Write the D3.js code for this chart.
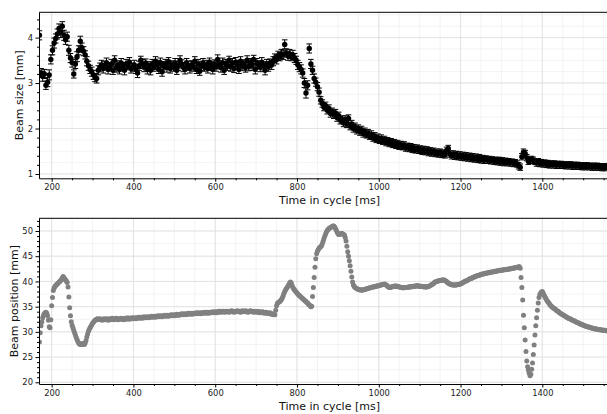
<!DOCTYPE html>
<html><head><meta charset="utf-8">
<script src="https://cdn.jsdelivr.net/npm/d3@7"></script>
<style>body{margin:0;background:#fff} svg{display:block} text{font-family:"DejaVu Sans",sans-serif}</style>
</head><body><svg id="c" width="607" height="414"></svg>
<script>
// ---------- DATA ----------
const sizeStart = 170, sizeStep = 4;   // ms
const beamSize = [
4.05,3.22,3.15,3.2,2.95,3.02,3.18,3.52,3.72,3.88,
3.98,4.08,4.2,4.12,4.25,4.05,3.95,4.02,3.72,3.55,
3.45,3.2,3.42,3.58,3.72,3.92,3.78,3.7,3.62,3.48,
3.38,3.3,3.25,3.18,3.12,3.1,3.28,3.35,3.4,3.32,
3.38,3.45,3.3,3.36,3.42,3.28,3.5,3.34,3.4,3.3,
3.44,3.36,3.28,3.42,3.38,3.46,3.32,3.35,3.4,3.3,
3.22,3.38,3.5,3.42,3.35,3.44,3.3,3.38,3.28,3.42,
3.35,3.48,3.4,3.3,3.45,3.25,3.38,3.42,3.34,3.47,
3.32,3.4,3.36,3.44,3.28,3.38,3.5,3.42,3.35,3.3,
3.45,3.38,3.32,3.4,3.36,3.48,3.3,3.42,3.26,3.38,
3.44,3.35,3.4,3.32,3.46,3.38,3.3,3.42,3.36,3.52,
3.4,3.34,3.45,3.28,3.42,3.38,3.5,3.36,3.44,3.32,
3.46,3.4,3.3,3.48,3.38,3.42,3.34,3.5,3.36,3.44,
3.38,3.52,3.3,3.44,3.4,3.35,3.46,3.38,3.28,3.42,
3.36,3.44,3.4,3.48,3.55,3.52,3.6,3.58,3.64,3.62,
3.85,3.66,3.6,3.64,3.58,3.62,3.55,3.5,3.4,3.35,
3.3,3.22,3.0,2.78,2.95,3.76,3.42,3.28,3.1,3.02,
2.92,2.8,2.62,2.55,2.47,2.5,2.4,2.44,2.33,2.37,
2.3,2.34,2.24,2.28,2.18,2.2,2.12,2.2,2.1,2.22,
2.05,2.1,2.0,2.04,1.96,2.0,1.93,1.97,1.89,1.93,
1.86,1.9,1.83,1.87,1.79,1.83,1.76,1.8,1.74,1.78,
1.72,1.76,1.69,1.73,1.67,1.71,1.65,1.69,1.63,1.67,
1.61,1.65,1.6,1.64,1.57,1.61,1.56,1.6,1.54,1.58,
1.53,1.57,1.52,1.55,1.5,1.54,1.49,1.53,1.47,1.51,
1.46,1.5,1.45,1.48,1.44,1.48,1.43,1.46,1.42,1.52,
1.56,1.44,1.4,1.44,1.39,1.43,1.38,1.42,1.37,1.41,
1.36,1.4,1.35,1.39,1.34,1.38,1.33,1.37,1.32,1.36,
1.31,1.35,1.3,1.34,1.3,1.33,1.29,1.32,1.28,1.31,
1.27,1.31,1.26,1.3,1.25,1.29,1.25,1.28,1.24,1.27,
1.23,1.26,1.22,1.18,1.15,1.38,1.48,1.45,1.36,1.28,
1.3,1.33,1.3,1.27,1.24,1.28,1.23,1.26,1.22,1.25,
1.21,1.24,1.2,1.23,1.2,1.23,1.19,1.22,1.19,1.22,
1.19,1.21,1.18,1.21,1.18,1.21,1.17,1.2,1.17,1.2,
1.17,1.19,1.16,1.19,1.16,1.19,1.16,1.18,1.15,1.18,
1.15,1.18,1.15,1.17,1.14,1.17,1.14,1.17
];
const beamSizeErr = [
0.1,0.1,0.11,0.1,0.09,0.1,0.11,0.1,0.1,0.11,
0.1,0.11,0.1,0.12,0.1,0.11,0.1,0.1,0.11,0.1,
0.1,0.09,0.1,0.11,0.1,0.11,0.1,0.1,0.09,0.1,
0.1,0.09,0.1,0.1,0.09,0.1,0.1,0.09,0.1,0.1,
0.09,0.1,0.1,0.09,0.1,0.09,0.1,0.1,0.09,0.1,
0.1,0.09,0.1,0.1,0.09,0.1,0.1,0.09,0.1,0.09,
0.1,0.1,0.09,0.1,0.1,0.09,0.1,0.09,0.1,0.1,
0.09,0.1,0.1,0.09,0.1,0.1,0.09,0.1,0.1,0.09,
0.1,0.09,0.1,0.1,0.09,0.1,0.1,0.09,0.1,0.1,
0.09,0.1,0.1,0.09,0.1,0.1,0.09,0.1,0.09,0.1,
0.1,0.09,0.1,0.1,0.09,0.1,0.1,0.09,0.1,0.1,
0.09,0.1,0.1,0.09,0.1,0.1,0.09,0.1,0.1,0.09,
0.1,0.1,0.09,0.1,0.1,0.09,0.1,0.1,0.09,0.1,
0.1,0.09,0.1,0.1,0.09,0.1,0.1,0.09,0.1,0.1,
0.1,0.09,0.1,0.1,0.09,0.1,0.1,0.09,0.1,0.1,
0.1,0.09,0.1,0.1,0.09,0.1,0.1,0.09,0.1,0.1,
0.1,0.09,0.1,0.11,0.1,0.1,0.1,0.09,0.1,0.09,
0.09,0.09,0.08,0.08,0.08,0.08,0.08,0.08,0.08,0.08,
0.08,0.08,0.08,0.08,0.08,0.08,0.08,0.08,0.08,0.08,
0.08,0.08,0.08,0.08,0.08,0.08,0.08,0.08,0.08,0.08,
0.07,0.08,0.07,0.08,0.07,0.08,0.07,0.08,0.07,0.08,
0.07,0.07,0.07,0.07,0.07,0.07,0.07,0.07,0.07,0.07,
0.07,0.07,0.07,0.07,0.07,0.07,0.07,0.07,0.07,0.07,
0.07,0.07,0.07,0.07,0.07,0.07,0.07,0.07,0.07,0.07,
0.07,0.07,0.07,0.07,0.07,0.07,0.07,0.07,0.07,0.07,
0.07,0.07,0.07,0.07,0.07,0.07,0.07,0.07,0.07,0.07,
0.07,0.07,0.07,0.07,0.07,0.07,0.07,0.07,0.07,0.07,
0.07,0.06,0.07,0.06,0.07,0.06,0.07,0.06,0.07,0.06,
0.07,0.06,0.07,0.06,0.07,0.06,0.07,0.06,0.07,0.06,
0.07,0.06,0.07,0.07,0.07,0.07,0.07,0.07,0.07,0.07,
0.07,0.06,0.07,0.06,0.07,0.06,0.07,0.06,0.07,0.06,
0.07,0.06,0.07,0.06,0.07,0.06,0.07,0.06,0.07,0.06,
0.07,0.06,0.07,0.06,0.07,0.06,0.07,0.06,0.07,0.06,
0.07,0.06,0.07,0.06,0.07,0.06,0.07,0.06,0.07,0.06,
0.07,0.06,0.07,0.06,0.07,0.06,0.07,0.06
];
const posStart = 170, posStep = 2;   // ms
const beamPos = [
28.0,29.8,31.2,32.0,32.8,33.3,33.6,33.8,33.9,33.7,
33.2,32.3,31.0,30.8,32.4,35.2,36.8,38.2,38.7,39.0,
39.2,39.4,39.5,39.7,39.9,40.0,40.2,40.4,40.7,41.0,
40.8,40.5,40.3,40.1,39.8,38.9,36.9,34.8,33.2,32.0,
31.3,30.8,30.3,29.8,29.4,28.9,28.5,28.1,27.8,27.6,
27.5,27.6,27.5,27.7,27.6,27.5,27.8,28.3,29.0,29.6,
30.1,30.5,30.8,31.1,31.4,31.7,31.9,32.1,32.3,32.4,
32.5,32.6,32.4,32.5,32.6,32.4,32.5,32.3,32.5,32.6,
32.4,32.5,32.6,32.5,32.3,32.5,32.6,32.4,32.5,32.7,
32.5,32.4,32.6,32.5,32.7,32.5,32.4,32.6,32.5,32.6,
32.7,32.5,32.6,32.4,32.6,32.7,32.5,32.6,32.8,32.6,
32.5,32.7,32.6,32.8,32.7,32.6,32.8,32.7,32.6,32.8,
32.7,32.9,32.8,32.7,32.9,32.8,32.7,32.9,33.0,32.8,
32.9,32.8,33.0,32.9,32.8,33.0,32.9,33.1,33.0,32.9,
33.0,33.1,32.9,33.1,33.0,33.2,33.1,33.0,33.2,33.1,
33.0,33.2,33.1,33.3,33.2,33.1,33.3,33.2,33.1,33.3,
33.2,33.4,33.3,33.2,33.4,33.3,33.2,33.4,33.5,33.3,
33.4,33.3,33.5,33.4,33.6,33.5,33.4,33.6,33.5,33.4,
33.6,33.5,33.7,33.6,33.5,33.7,33.6,33.5,33.7,33.6,
33.7,33.6,33.8,33.7,33.6,33.8,33.7,33.6,33.8,33.7,
33.8,33.7,33.9,33.8,33.7,33.9,33.8,33.7,33.9,33.8,
33.9,33.8,34.0,33.9,33.8,34.0,33.9,33.8,34.0,34.1,
33.9,34.0,34.1,33.9,34.0,34.1,34.0,33.9,34.1,34.0,
34.1,34.0,33.9,34.1,34.0,34.2,34.0,34.1,33.9,34.0,
34.1,34.0,34.2,34.1,34.0,34.1,33.9,34.0,34.2,34.1,
34.0,34.1,34.2,34.0,34.1,33.9,34.0,34.1,34.2,34.0,
34.1,34.0,33.9,34.1,34.0,33.9,34.0,34.1,33.9,33.8,
34.0,33.9,33.8,34.0,33.9,33.7,33.8,33.9,33.7,33.8,
33.7,33.6,33.8,33.6,33.5,33.6,33.4,33.5,33.4,34.3,
35.2,35.6,35.8,35.9,36.0,36.2,36.4,36.7,37.1,37.6,
38.0,38.3,38.6,38.8,39.1,39.4,39.7,39.9,39.7,39.2,
38.8,38.5,38.3,38.1,37.9,37.7,37.5,37.3,37.2,37.0,
36.9,36.7,36.6,36.4,36.3,36.1,36.0,35.8,35.7,35.5,
35.4,35.2,35.0,35.1,37.0,38.8,40.8,42.8,44.5,45.5,
46.0,46.3,46.6,46.8,46.9,47.1,47.5,48.0,48.5,49.0,
49.4,49.8,50.1,50.3,50.5,50.6,50.7,50.8,50.9,51.0,
51.0,50.8,50.5,50.2,49.8,49.5,49.3,49.3,49.4,49.5,
49.5,49.4,49.3,49.2,48.7,48.0,47.0,45.9,45.0,44.1,
43.1,42.0,40.9,39.9,39.3,39.0,38.8,38.7,38.6,38.5,
38.4,38.4,38.3,38.3,38.3,38.3,38.3,38.4,38.4,38.5,
38.5,38.6,38.6,38.7,38.7,38.8,38.8,38.9,38.9,38.9,
39.0,39.0,39.1,39.1,39.1,39.2,39.2,39.3,39.3,39.4,
39.4,39.4,39.5,39.4,39.3,39.2,39.0,38.9,38.8,38.8,
38.9,38.9,39.0,39.0,39.1,39.1,39.0,39.1,39.0,39.0,
38.9,38.9,38.8,38.8,38.8,38.7,38.8,38.8,38.8,38.8,
38.8,38.9,38.9,38.9,39.0,38.9,39.0,39.0,39.1,39.0,
39.1,39.1,39.2,39.1,39.1,39.0,39.1,39.0,39.0,39.0,
38.9,39.0,38.9,38.9,38.9,39.0,39.0,39.1,39.2,39.3,
39.4,39.5,39.6,39.8,39.9,40.0,40.0,40.1,40.1,40.2,
40.2,40.2,40.3,40.3,40.3,40.3,40.2,40.1,40.0,39.8,
39.7,39.6,39.5,39.4,39.4,39.3,39.3,39.3,39.3,39.3,
39.3,39.4,39.4,39.4,39.5,39.5,39.6,39.7,39.8,39.9,
40.0,40.1,40.1,40.2,40.3,40.4,40.5,40.6,40.6,40.7,
40.8,40.9,40.9,41.0,41.1,41.1,41.2,41.2,41.3,41.3,
41.4,41.4,41.4,41.5,41.5,41.6,41.6,41.6,41.7,41.7,
41.7,41.8,41.8,41.8,41.9,41.9,41.9,42.0,42.0,42.0,
42.1,42.1,42.1,42.2,42.2,42.2,42.2,42.3,42.3,42.3,
42.3,42.4,42.4,42.4,42.4,42.5,42.5,42.5,42.6,42.6,
42.6,42.7,42.7,42.7,42.8,42.8,42.9,42.9,42.6,40.8,
38.8,36.3,33.3,30.8,28.4,26.1,24.2,23.1,22.4,21.8,
21.3,21.6,22.6,23.8,25.5,27.4,29.4,31.2,32.8,34.3,
35.7,36.8,37.4,37.7,37.9,38.0,37.7,37.3,37.0,36.7,
36.4,36.1,35.9,35.7,35.5,35.3,35.1,35.0,34.8,34.7,
34.6,34.5,34.3,34.2,34.1,34.0,33.8,33.7,33.6,33.5,
33.4,33.3,33.2,33.1,33.0,32.9,32.8,32.7,32.6,32.6,
32.5,32.4,32.3,32.2,32.2,32.1,32.0,31.9,31.8,31.8,
31.7,31.6,31.5,31.5,31.4,31.3,31.3,31.2,31.1,31.1,
31.0,31.0,30.9,30.9,30.8,30.8,30.7,30.7,30.6,30.6,
30.6,30.5,30.5,30.5,30.4,30.4,30.4,30.4,30.3,30.3,
30.3,30.3,30.3,30.2,30.2,30.2
];
const xTicks = [200,400,600,800,1000,1200,1400];
const sizeTicks = [1,2,3,4];
const posTicks = [20,25,30,35,40,45,50];
const xLabel = "Time in cycle [ms]";
const sizeLabel = "Beam size [mm]";
const posLabel = "Beam position [mm]";

// ---------- DRAW ----------
const svg = d3.select('#c');
const X0 = 39, X1 = 620;
const x = d3.scaleLinear().domain([169, 1590]).range([X0, X1]);
const xMinor = d3.range(150, 1601, 50).filter(v => v >= 169 && v <= 1590);

const sizeData = beamSize.map((v, i) => ({t: sizeStart + i * sizeStep, v, e: beamSizeErr[i]}));
const posData = beamPos.map((v, i) => ({t: posStart + i * posStep, v}));

function panel(cfg) {
  const g = svg.append('g');
  const y = d3.scaleLinear().domain(cfg.ydom).range([cfg.y1, cfg.y0]);
  const clipId = 'clip' + cfg.id;
  svg.append('defs').append('clipPath').attr('id', clipId)
    .append('rect').attr('x', X0).attr('y', cfg.y0).attr('width', X1 - X0).attr('height', cfg.y1 - cfg.y0);

  const grid = g.append('g');
  grid.selectAll('.vmin').data(xMinor).join('line')
    .attr('x1', d => x(d)).attr('x2', d => x(d)).attr('y1', cfg.y0).attr('y2', cfg.y1)
    .attr('stroke', '#f0f0f0').attr('stroke-width', 0.8);
  grid.selectAll('.hmin').data(cfg.minorGrid.filter(v => v >= cfg.ydom[0] && v <= cfg.ydom[1])).join('line')
    .attr('x1', X0).attr('x2', X1).attr('y1', d => y(d)).attr('y2', d => y(d))
    .attr('stroke', '#f0f0f0').attr('stroke-width', 0.8);
  grid.selectAll('.vmaj').data(xTicks).join('line')
    .attr('x1', d => x(d)).attr('x2', d => x(d)).attr('y1', cfg.y0).attr('y2', cfg.y1)
    .attr('stroke', '#dedede').attr('stroke-width', 0.8);
  grid.selectAll('.hmaj').data(cfg.yTicks).join('line')
    .attr('x1', X0).attr('x2', X1).attr('y1', d => y(d)).attr('y2', d => y(d))
    .attr('stroke', '#dedede').attr('stroke-width', 0.8);

  const plot = g.append('g').attr('clip-path', `url(#${clipId})`);
  cfg.draw(plot, y);

  const fmt = d => d;
  const ax = g.append('g').attr('transform', `translate(0,${cfg.y1})`)
    .call(d3.axisBottom(x).tickValues(xTicks).tickSize(3.5).tickPadding(2.5).tickSizeOuter(0).tickFormat(fmt));
  g.append('g').attr('transform', `translate(0,${cfg.y1})`)
    .call(d3.axisBottom(x).tickValues(xMinor.filter(v => !xTicks.includes(v))).tickSize(2).tickFormat('').tickSizeOuter(0))
    .call(s => s.select('.domain').remove());
  const ay = g.append('g').attr('transform', `translate(${X0},0)`)
    .call(d3.axisLeft(y).tickValues(cfg.yTicks).tickSize(3.5).tickPadding(2.5).tickSizeOuter(0).tickFormat(fmt));
  g.append('g').attr('transform', `translate(${X0},0)`)
    .call(d3.axisLeft(y).tickValues(cfg.minorTicks.filter(v => v >= cfg.ydom[0] && v <= cfg.ydom[1] && !cfg.yTicks.some(t => Math.abs(t - v) < 1e-9))).tickSize(2).tickFormat('').tickSizeOuter(0))
    .call(s => s.select('.domain').remove());
  [ax, ay].forEach(a => {
    a.selectAll('text').attr('font-family', '"DejaVu Sans", sans-serif').attr('font-size', 8.4).attr('fill', '#222');
    a.select('.domain').attr('stroke', '#000').attr('stroke-width', 1);
  });
  g.append('line').attr('x1', X0).attr('x2', X1).attr('y1', cfg.y0).attr('y2', cfg.y0).attr('stroke', '#000').attr('stroke-width', 1);
  g.append('line').attr('x1', X1).attr('x2', X1).attr('y1', cfg.y0).attr('y2', cfg.y1).attr('stroke', '#000').attr('stroke-width', 1);

  g.append('text').attr('x', (X0 + X1) / 2).attr('y', cfg.y1 + 26).attr('text-anchor', 'middle')
    .attr('font-size', 11).attr('fill', '#111').text(xLabel);
  g.append('text').attr('transform', `translate(${cfg.labelX},${(cfg.y0 + cfg.y1) / 2}) rotate(-90)`)
    .attr('text-anchor', 'middle').attr('font-size', 11).attr('fill', '#111').text(cfg.ylabel);
}

panel({
  id: 'top', y0: 12.3, y1: 178.3, ydom: [0.905, 4.556],
  yTicks: sizeTicks, minorTicks: d3.range(10, 46, 2).map(v => v / 10), minorGrid: d3.range(100, 456, 25).map(v => v / 100),
  ylabel: sizeLabel, labelX: 23,
  draw: (p, y) => {
    p.selectAll('.eb').data(sizeData).join('line')
      .attr('x1', d => x(d.t)).attr('x2', d => x(d.t)).attr('y1', d => y(d.v - d.e)).attr('y2', d => y(d.v + d.e))
      .attr('stroke', '#000').attr('stroke-width', 1);
    ['lo', 'hi'].forEach(k => {
      p.selectAll('.cap' + k).data(sizeData).join('line')
        .attr('x1', d => x(d.t) - 2.8).attr('x2', d => x(d.t) + 2.8)
        .attr('y1', d => y(k === 'lo' ? d.v - d.e : d.v + d.e)).attr('y2', d => y(k === 'lo' ? d.v - d.e : d.v + d.e))
        .attr('stroke', '#000').attr('stroke-width', 1);
    });
    p.selectAll('.pt').data(sizeData).join('circle')
      .attr('cx', d => x(d.t)).attr('cy', d => y(d.v)).attr('r', 2.7).attr('fill', '#000');
  }
});

panel({
  id: 'bot', y0: 218.3, y1: 384, ydom: [19.66, 52.52],
  yTicks: posTicks, minorTicks: d3.range(20, 53, 1), minorGrid: d3.range(20, 53, 2.5),
  ylabel: posLabel, labelX: 18,
  draw: (p, y) => {
    p.selectAll('.pt').data(posData).join('circle')
      .attr('cx', d => x(d.t)).attr('cy', d => y(d.v)).attr('r', 2.5).attr('fill', '#808080');
  }
});
</script>
</body></html>
